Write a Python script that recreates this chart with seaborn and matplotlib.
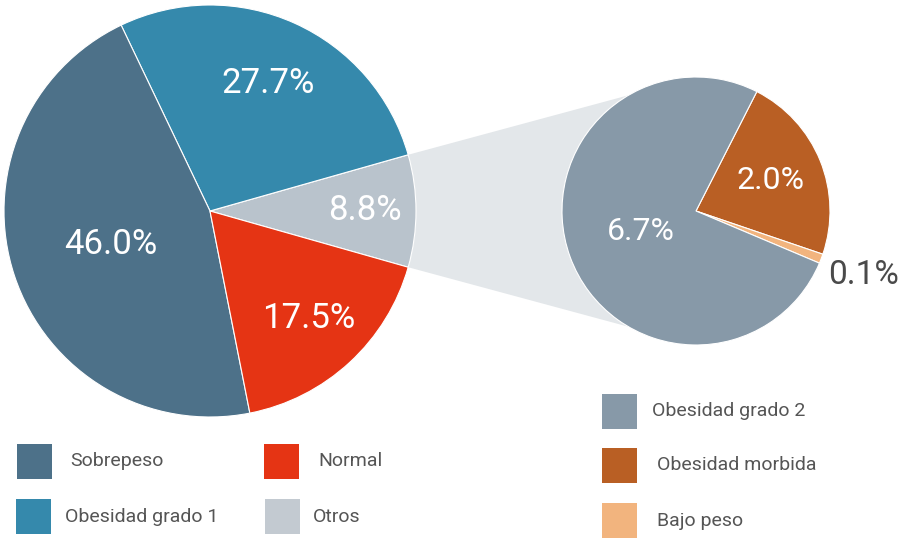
import numpy as np
import matplotlib
matplotlib.use("Agg")
import matplotlib.pyplot as plt
from matplotlib.patches import Polygon, Rectangle
import seaborn as sns

# ---- data ----
main_labels = ["Otros", "Obesidad grado 1", "Sobrepeso", "Normal"]
main_values = [8.8, 27.7, 46.0, 17.5]
main_colors = ["#b9c3cc", "#3589ac", "#4d7189", "#e53414"]

sub_labels = ["Obesidad morbida", "Bajo peso", "Obesidad grado 2"]
sub_values = [2.0, 0.1, 6.7]
sub_colors = ["#b95f24", "#f2b47e", "#8799a8"]

legend_left = ["Sobrepeso", "Normal", "Obesidad grado 1", "Otros"]
legend_right = ["Obesidad grado 2", "Obesidad morbida", "Bajo peso"]

sns.set_theme(style="white")
plt.rcParams["font.family"] = ["Roboto", "DejaVu Sans"]

W, H = 907, 538
fig = plt.figure(figsize=(W / 100, H / 100), dpi=100)
ax = fig.add_axes([0, 0, 1, 1])

# geometry (pixel space, y up)
c1, r1 = (210, 327), 206
c2, r2 = (696, 327), 134

otros_half = main_values[0] / sum(main_values) * 180.0
w1, _ = ax.pie(main_values, colors=main_colors, startangle=-otros_half,
               counterclock=True, center=c1, radius=r1,
               wedgeprops=dict(edgecolor="white", linewidth=0.8))
for w in w1:
    w.set_zorder(3)

w2, _ = ax.pie(sub_values, colors=sub_colors, startangle=63,
               counterclock=False, center=c2, radius=r2,
               wedgeprops=dict(edgecolor="white", linewidth=0.8))
for w in w2:
    w.set_zorder(3)

# connector between Otros wedge and sub pie
t = np.deg2rad(otros_half)
p_top = (c1[0] + r1 * np.cos(t), c1[1] + r1 * np.sin(t))
p_bot = (c1[0] + r1 * np.cos(t), c1[1] - r1 * np.sin(t))
conn = Polygon([p_top, (c2[0], c2[1] + r2), (c2[0], c2[1] - r2), p_bot],
               closed=True, facecolor="#e3e7ea", edgecolor="none", zorder=1)
ax.add_patch(conn)

# percentage labels
def place(wedges, values, fracs, sizes, colors, center, radius):
    for w, v, f, s, col in zip(wedges, values, fracs, sizes, colors):
        mid = np.deg2rad((w.theta1 + w.theta2) / 2)
        x = center[0] + f * radius * np.cos(mid)
        y = center[1] + f * radius * np.sin(mid)
        ax.text(x, y, f"{v:.1f}%", ha="center", va="center", fontsize=s,
                color=col, fontweight="normal", zorder=5)

place(w1, main_values, [0.75, 0.68, 0.51, 0.71], [25, 25, 25, 25],
      ["white"] * 4, c1, r1)
place(w2, sub_values, [0.6, 1.34, 0.44], [23, 24, 23],
      ["white", "#4a4a4a", "white"], c2, r2)

# legends
leg_color = dict(zip(main_labels + sub_labels, main_colors + sub_colors))
leg_color["Otros"] = "#c3cad1"
left_pos = [(17, 444, 70), (264, 444, 318), (16, 499, 65), (265, 499, 313)]
for lab, (sx, sy, tx) in zip(legend_left, left_pos):
    ax.add_patch(Rectangle((sx, H - sy - 35), 35, 35, facecolor=leg_color[lab],
                           edgecolor="none"))
    ax.text(tx, H - sy - 17.5, lab, ha="left", va="center", fontsize=14,
            color="#555555")
right_pos = [(602, 394, 652), (602, 448, 657), (602, 503, 657)]
for lab, (sx, sy, tx) in zip(legend_right, right_pos):
    ax.add_patch(Rectangle((sx, H - sy - 35), 35, 35, facecolor=leg_color[lab],
                           edgecolor="none"))
    ax.text(tx, H - sy - 17.5, lab, ha="left", va="center", fontsize=14,
            color="#555555")

ax.set_xlim(0, W)
ax.set_ylim(0, H)
ax.set_aspect("equal")
ax.axis("off")
fig.savefig("out.png", dpi=100, facecolor="white")
